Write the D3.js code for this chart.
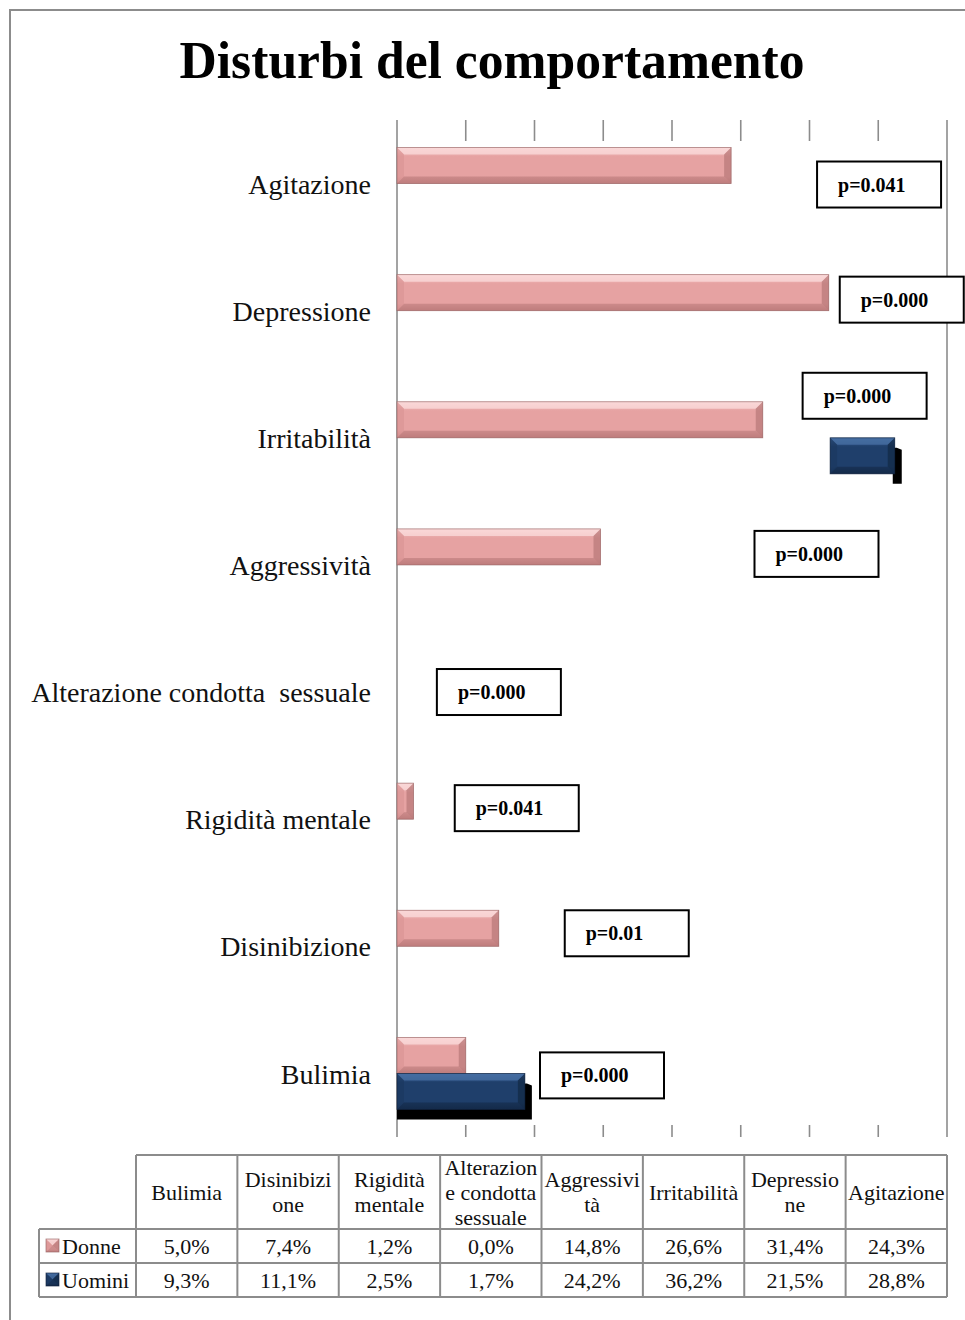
<!DOCTYPE html>
<html><head><meta charset="utf-8">
<script src="https://cdn.jsdelivr.net/npm/d3@7"></script>
<style>html,body{margin:0;padding:0;background:#fff;}svg{display:block;}text{white-space:pre;}</style>
</head><body>
<script>
// ---- data ----
const categories = ["Bulimia","Disinibizione","Rigidità mentale","Alterazione condotta  sessuale","Aggressività","Irritabilità","Depressione","Agitazione"];
const tableHeaders = [["Bulimia"],["Disinibizi","one"],["Rigidità","mentale"],["Alterazion","e condotta","sessuale"],["Aggressivi","tà"],["Irritabilità"],["Depressio","ne"],["Agitazione"]];
const seriesNames = ["Donne","Uomini"];
const donne  = [5.0, 7.4, 1.2, 0.0, 14.8, 26.6, 31.4, 24.3];
const uomini = [9.3, 11.1, 2.5, 1.7, 24.2, 36.2, 21.5, 28.8];
const donneLabels  = ["5,0%","7,4%","1,2%","0,0%","14,8%","26,6%","31,4%","24,3%"];
const uominiLabels = ["9,3%","11,1%","2,5%","1,7%","24,2%","36,2%","21,5%","28,8%"];
const pValues = ["p=0.000","p=0.01","p=0.041","p=0.000","p=0.000","p=0.000","p=0.000","p=0.041"];
// part of the Uomini bar left uncovered in the original (value where it becomes visible; null = hidden)
const uominiVisibleFrom = [0, null, null, null, null, 31.5, null, null];
const xTicks = [0,5,10,15,20,25,30,35,40];
// annotation placement (box left edge in axis units, vertical offset in px from the bar group top)
const pBoxX  = [10.4, 12.2, 4.2, 2.9, 26.0, 29.5, 32.2, 30.55];
const pBoxDy = [15, 0, 2, 13, 2, -29, 2, 14];

// ---- layout ----
const W = 965, H = 1320;
const svg = d3.select("body").append("svg").attr("width", W).attr("height", H);
const serif = "'Liberation Serif','Times New Roman',serif";
const gridCol = "#8c8c8c";

// outer frame
svg.append("path").attr("d", "M10,1320V10H965").attr("fill","none").attr("stroke", gridCol).attr("stroke-width", 2);

// title
svg.append("text").attr("x", 492).attr("y", 78).attr("text-anchor","middle")
  .attr("font-family", serif).attr("font-weight","bold").attr("font-size", 52)
  .attr("textLength", 625).attr("lengthAdjust","spacingAndGlyphs")
  .text("Disturbi del comportamento");

const plotTop = 120, plotBot = 1137;
const x = d3.scaleLinear().domain([0,40]).range([397,947]);
const order = categories.slice().reverse(); // top: Agitazione
const y = d3.scaleBand().domain(order).range([plotTop, plotBot]).paddingInner(0.433).paddingOuter(0.2165);
const ys = d3.scaleBand().domain(seriesNames).range([0, y.bandwidth()]);

// gradients
const defs = svg.append("defs");
const colors = {
  Donne:  {top:"#f6c9c9", mid:"#e6a2a2", bot:"#c98686", light:"#fbdcdc", dark:"#b47474", side:"#d89393", stroke:"#9a6464"},
  Uomini: {top:"#3a6296", mid:"#1f3f6b", bot:"#162f52", light:"#4a72a6", dark:"#112641", side:"#1a375e", stroke:"#10223c"}
};
seriesNames.forEach(s => {
  const g = defs.append("linearGradient").attr("id","g"+s).attr("x1",0).attr("y1",0).attr("x2",0).attr("y2",1);
  g.append("stop").attr("offset","0%").attr("stop-color", colors[s].top);
  g.append("stop").attr("offset","25%").attr("stop-color", colors[s].mid);
  g.append("stop").attr("offset","80%").attr("stop-color", colors[s].mid);
  g.append("stop").attr("offset","100%").attr("stop-color", colors[s].bot);
});

function bevelBar(g, s, x0, y0, x1, y1) {
  const w = x1 - x0, h = y1 - y0;
  if (w <= 0) return;
  const b = Math.min(7, w/2, h/2);
  const c = colors[s];
  g.append("rect").attr("x",x0).attr("y",y0).attr("width",w).attr("height",h).attr("fill","url(#g"+s+")");
  g.append("polygon").attr("points",[[x0,y0],[x1,y0],[x1-b,y0+b],[x0+b,y0+b]].join(" ")).attr("fill",c.light).attr("opacity",0.75);
  g.append("polygon").attr("points",[[x0,y1],[x1,y1],[x1-b,y1-b],[x0+b,y1-b]].join(" ")).attr("fill",c.dark).attr("opacity",0.5);
  g.append("polygon").attr("points",[[x0,y0],[x0+b,y0+b],[x0+b,y1-b],[x0,y1]].join(" ")).attr("fill",c.side).attr("opacity",0.6);
  g.append("polygon").attr("points",[[x1,y0],[x1-b,y0+b],[x1-b,y1-b],[x1,y1]].join(" ")).attr("fill",c.dark).attr("opacity",0.65);
  g.append("rect").attr("x",x0).attr("y",y0).attr("width",w).attr("height",h).attr("fill","none").attr("stroke",c.stroke).attr("stroke-width",0.8).attr("opacity",0.8);
}

// axis lines and ticks
const axisG = svg.append("g");
xTicks.forEach(t => {
  const full = (t === 0 || t === 40);
  if (full) {
    axisG.append("line").attr("x1",x(t)).attr("x2",x(t)).attr("y1",plotTop).attr("y2",plotBot).attr("stroke",gridCol).attr("stroke-width",1.6);
  } else {
    axisG.append("line").attr("x1",x(t)).attr("x2",x(t)).attr("y1",plotTop).attr("y2",plotTop+21).attr("stroke",gridCol).attr("stroke-width",1.6);
    axisG.append("line").attr("x1",x(t)).attr("x2",x(t)).attr("y1",plotBot-12).attr("y2",plotBot).attr("stroke",gridCol).attr("stroke-width",1.6);
  }
});

// bars
const barsG = svg.append("g");
categories.forEach((c, i) => {
  const y0 = y(c);
  bevelBar(barsG, "Donne", x(0), y0 + ys("Donne"), x(donne[i]), y0 + ys("Donne") + ys.bandwidth());
  if (uominiVisibleFrom[i] !== null) {
    const by = y0 + ys("Uomini");
    const sx0 = uominiVisibleFrom[i] === 0 ? x(0) : x(uomini[i]) - 2;
    barsG.append("polygon")
      .attr("points", [[sx0, by+10],[x(uomini[i])+2, by+10],[x(uomini[i])+7, by+12],[x(uomini[i])+7, by+ys.bandwidth()+10],[sx0, by+ys.bandwidth()+10]].join(" "))
      .attr("fill","#000");
    bevelBar(barsG, "Uomini", x(uominiVisibleFrom[i]), by, x(uomini[i]), by + ys.bandwidth());
  }
});

// category labels
const labG = svg.append("g");
categories.forEach(c => {
  labG.append("text").attr("x", 371).attr("y", y(c) + y.bandwidth()/2).attr("dy","0.36em")
    .attr("text-anchor","end").attr("font-family", serif).attr("font-size", 28).attr("fill","#111").text(c);
});

// p-value boxes
const pG = svg.append("g");
categories.forEach((c, i) => {
  const bx = x(pBoxX[i]), by = y(c) + pBoxDy[i];
  pG.append("rect").attr("x",bx).attr("y",by).attr("width",124).attr("height",46)
    .attr("fill","#fff").attr("stroke","#000").attr("stroke-width",2);
  pG.append("text").attr("x",bx+21).attr("y",by+23).attr("dy","0.35em")
    .attr("font-family", serif).attr("font-weight","bold").attr("font-size",20).text(pValues[i]);
});

// data table
const tx = d3.scaleBand().domain(categories).range([136, 947]);
const rowY = [1155, 1229, 1263, 1297];
const tG = svg.append("g").attr("font-family", serif).attr("font-size", 22).attr("fill","#111");
const tcol = "#8c8c8c";
tG.append("line").attr("x1",136).attr("x2",947).attr("y1",rowY[0]).attr("y2",rowY[0]).attr("stroke",tcol).attr("stroke-width",2);
[1,2,3].forEach(r => tG.append("line").attr("x1",39).attr("x2",947).attr("y1",rowY[r]).attr("y2",rowY[r]).attr("stroke",tcol).attr("stroke-width",2));
tG.append("line").attr("x1",39).attr("x2",39).attr("y1",rowY[1]).attr("y2",rowY[3]).attr("stroke",tcol).attr("stroke-width",2);
categories.forEach(c => tG.append("line").attr("x1",tx(c)).attr("x2",tx(c)).attr("y1",rowY[0]).attr("y2",rowY[3]).attr("stroke",tcol).attr("stroke-width",2));
tG.append("line").attr("x1",947).attr("x2",947).attr("y1",rowY[0]).attr("y2",rowY[3]).attr("stroke",tcol).attr("stroke-width",2);
categories.forEach((c, i) => {
  const lines = tableHeaders[i];
  const cx = tx(c) + tx.bandwidth()/2, cy = (rowY[0]+rowY[1])/2;
  const lh = 25;
  lines.forEach((ln, k) => {
    tG.append("text").attr("x",cx).attr("y", cy + (k - (lines.length-1)/2)*lh).attr("dy","0.35em")
      .attr("text-anchor","middle").text(ln);
  });
  tG.append("text").attr("x",cx).attr("y",(rowY[1]+rowY[2])/2).attr("dy","0.35em").attr("text-anchor","middle").text(donneLabels[i]);
  tG.append("text").attr("x",cx).attr("y",(rowY[2]+rowY[3])/2).attr("dy","0.35em").attr("text-anchor","middle").text(uominiLabels[i]);
});
seriesNames.forEach((s, k) => {
  const cy = (rowY[1+k]+rowY[2+k])/2;
  bevelBar(tG, s, 46, cy-7, 59, cy+6);
  tG.append("text").attr("x",62).attr("y",cy).attr("dy","0.35em").text(s);
});
</script>
</body></html>
